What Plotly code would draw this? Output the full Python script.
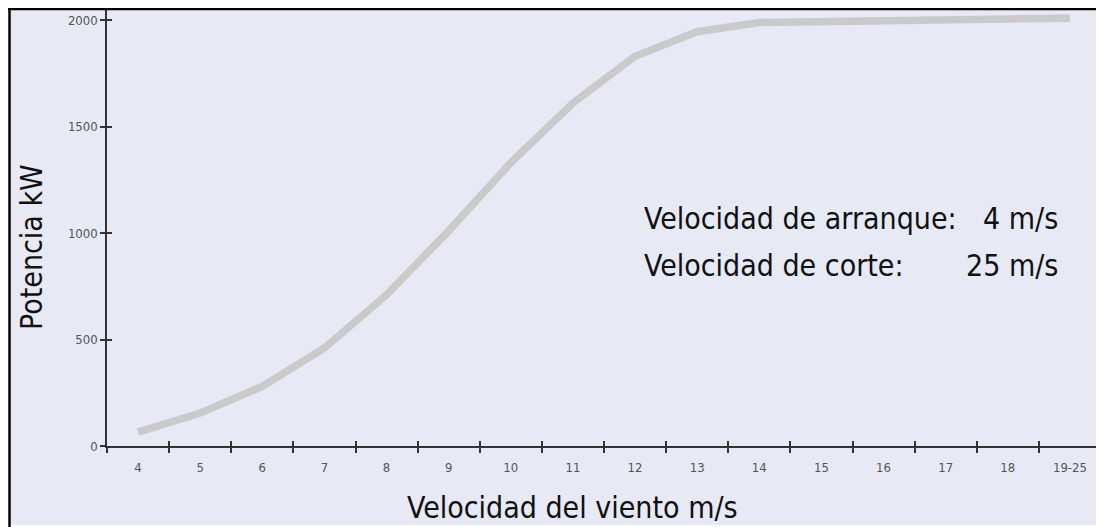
import plotly.graph_objects as go

# power curve
wind_speed = ["4", "5", "6", "7", "8", "9", "10", "11", "12", "13", "14", "15", "16", "17", "18", "19-25"]
power_kw = [65, 155, 280, 460, 710, 1010, 1330, 1610, 1830, 1945, 1988, 1993, 2003, 2005, 2005, 2008]
y_ticks = [0, 500, 1000, 1500, 2000]

# the page body has an 8px margin, so the figure is drawn 8px in
OFF = 8
W, H = 1104 - OFF, 527 - OFF
L, R, T, B = 107 - OFF, 3, 2, 81
PW, PH = W - L - R, H - T - B
BG = "#E7E9F5"
TXT = "DejaVu Sans Condensed"


def px_x(p):
    # page pixel -> paper fraction
    return (p - OFF - L) / PW


def px_y(p):
    return (H - B - (p - OFF)) / PH


fig = go.Figure()
fig.add_trace(
    go.Scatter(
        x=wind_speed,
        y=power_kw,
        mode="lines",
        line={"color": "#CACACA", "width": 7.5},
        showlegend=False,
        hoverinfo="x+y",
    )
)
# same data on overlaid axes, only to get the ticks drawn inside too
fig.add_trace(
    go.Scatter(
        x=wind_speed,
        y=power_kw,
        xaxis="x2",
        yaxis="y2",
        mode="lines",
        line={"width": 0},
        showlegend=False,
        hoverinfo="skip",
    )
)

axis_common = dict(showgrid=False, zeroline=False, showline=True, linecolor="#333", linewidth=1.5,
                   tickcolor="#333", tickwidth=1.5, ticklen=5)
tick_font = {"family": TXT, "size": 13, "color": "#555"}

fig.update_layout(
    width=W,
    height=H,
    margin={"l": L, "r": R, "t": T, "b": B},
    paper_bgcolor="white",
    plot_bgcolor="rgba(0,0,0,0)",
    xaxis=dict(axis_common, type="category", ticks="outside", tickson="boundaries",
               range=[-0.5, 15.5], tickfont=tick_font, ticklabelstandoff=9),
    yaxis=dict(axis_common, range=[0, 2047], tickvals=y_ticks, ticks="outside", ticklabelstandoff=0,
               tickfont=tick_font),
    xaxis2=dict(axis_common, type="category", overlaying="x", anchor="y2", ticks="inside",
                tickson="boundaries", range=[-0.5, 15.5], showticklabels=False),
    yaxis2=dict(axis_common, overlaying="y", anchor="x2", range=[0, 2047], tickvals=y_ticks,
                ticks="inside", showticklabels=False),
)

# framed light background like the source slide
fig.add_shape(type="rect", xref="paper", yref="paper", layer="below",
              x0=px_x(9), x1=px_x(1101), y0=px_y(525), y1=px_y(8),
              fillcolor=BG, line={"width": 0})
fig.add_shape(type="line", xref="paper", yref="paper",
              x0=px_x(8), x1=px_x(1104), y0=px_y(9), y1=px_y(9), line={"color": "black", "width": 2.5})
fig.add_shape(type="line", xref="paper", yref="paper",
              x0=px_x(9.5), x1=px_x(9.5), y0=px_y(527), y1=px_y(8), line={"color": "black", "width": 2.5})

big = {"family": TXT, "size": 30, "color": "#111"}


def note(text, x, y, xanchor="center", angle=0):
    fig.add_annotation(text=text, xref="paper", yref="paper", x=px_x(x), y=px_y(y),
                       xanchor=xanchor, yanchor="middle", textangle=angle, showarrow=False, font=big)


note("Potencia kW", 31, 247, angle=-90)
note("Velocidad del viento m/s", 572, 507)
note("Velocidad de arranque:", 642, 218, "left")
note("4 m/s", 1060, 218, "right")
note("Velocidad de corte:", 642, 265, "left")
note("25 m/s", 1060, 265, "right")

fig.write_html("out.html")
